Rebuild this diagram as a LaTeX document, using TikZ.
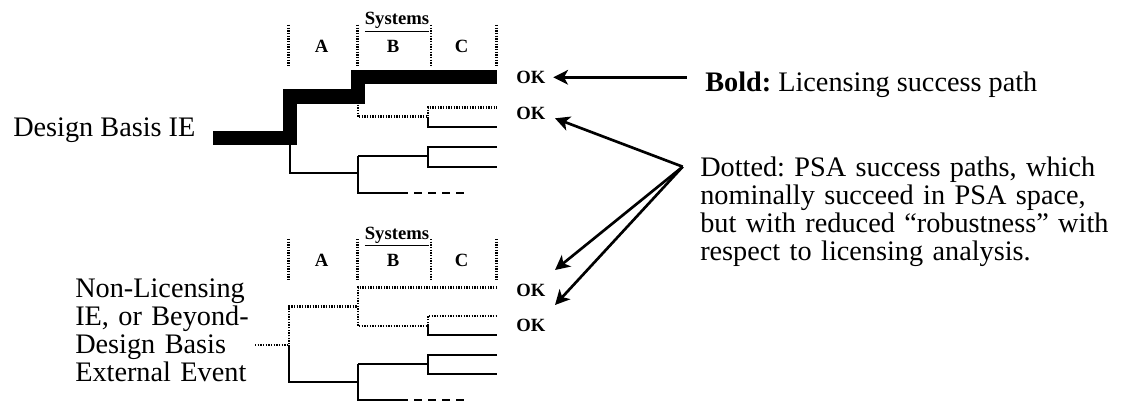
\documentclass[tikz,border=0pt]{standalone}
\usepackage{fontspec}
\setmainfont{Liberation Serif}
\usetikzlibrary{arrows.meta}
\frenchspacing
\begin{document}
\begin{tikzpicture}[x=0.75pt,y=-0.75pt,
  thin/.style={line width=1.4pt},
  dotln/.style={line width=2pt,dash pattern=on 1pt off 1pt},
  hdr/.style={line width=2pt,dash pattern=on 1pt off 1pt},
  boldpath/.style={line width=10.5pt,miter limit=10},
  dashln/.style={line width=1.6pt,dash pattern=on 6pt off 4.5pt},
  arr/.style={line width=2pt,-{Stealth[length=11pt,width=11pt,inset=3pt]}},
  big/.style={inner sep=0pt,font=\fontsize{21.2}{21.2}\selectfont},
  small/.style={inner sep=0pt,font=\fontsize{14}{16}\selectfont\bfseries},
]
\useasboundingbox (0,0) rectangle (1124,403);
% ---------- texts ----------
\node[big,anchor=base west] (dbie) at (13,137) {Design Basis IE};
\node[big,anchor=base west,text width=200pt,align=left] (nlie) at (75,297)
  {Non-Licensing\\IE, or Beyond-\\Design Basis\\External Event};
\node[big,anchor=base west] (boldtxt) at (705,92) {\textbf{Bold:} Licensing success path};
\node[big,anchor=base west,text width=330pt,align=left] (dottxt) at (700,176)
  {Dotted: PSA success paths, which\\nominally succeed in PSA space,\\but with reduced “robustness” with\\respect to licensing analysis.};
% OK labels
\node[small,anchor=base west] (ok1) at (516,84) {OK};
\node[small,anchor=base west] (ok2) at (516,119.3) {OK};
\node[small,anchor=base west] (ok3) at (516,296) {OK};
\node[small,anchor=base west] (ok4) at (516,331.7) {OK};
% headers
\node[small,anchor=base] (sys1) at (397,25) {\underline{Systems}};
\node[small] (a1) at (321.7,46.7) {A};
\node[small] (b1) at (393,46.7) {B};
\node[small] (c1) at (461.7,46.7) {C};
\node[small,anchor=base] (sys2) at (397,239) {\underline{Systems}};
\node[small] (a2) at (321.7,260) {A};
\node[small] (b2) at (393,260) {B};
\node[small] (c2) at (461.7,260) {C};
\foreach \x in {288.3,357.7,431,496.7}{
  \draw[hdr] (\x,25) -- (\x,67);
  \draw[hdr] (\x,239) -- (\x,281);
}
% ---------- upper tree ----------
\draw[boldpath] (213,137.5) -- (290,137.5) -- (290,96.5) -- (358,96.5) -- (358,76.7) -- (497,76.7);
\draw[thin] (290,137.5) -- (290,173.3) -- (358,173.3);
\draw[thin] (358,155.7) -- (358,193.3) -- (400,193.3);
\draw[dashln] (400,193.3) -- (470,193.3);
\draw[thin] (358,155.7) -- (428,155.7);
\draw[thin] (497,146.7) -- (428,146.7) -- (428,166.7) -- (497,166.7);
\draw[dotln] (358,96.5) -- (358,116.7) -- (428,116.7) -- (428,107.3) -- (497,107.3);
\draw[thin] (428,116.7) -- (428,126.7) -- (497,126.7);
% ---------- lower tree ----------
\draw[dotln] (255,345) -- (289,345) -- (289,306.7) -- (358,306.7);
\draw[dotln] (497,287.3) -- (358,287.3) -- (358,326) -- (428,326) -- (428,316) -- (497,316);
\draw[thin] (428,326) -- (428,335) -- (497,335);
\draw[thin] (289,345) -- (289,381.7) -- (358,381.7);
\draw[thin] (358,364.3) -- (358,400) -- (400,400);
\draw[dashln] (400,400) -- (470,400);
\draw[thin] (358,364.3) -- (428,364.3);
\draw[thin] (497,355) -- (428,355) -- (428,374.3) -- (497,374.3);
% ---------- arrows ----------
\coordinate (boldsrc) at (686.7,77.3);
\coordinate (hub) at (682.7,166.7);
\coordinate (t1) at (553.3,77.3);
\coordinate (t2) at (555,118.3);
\coordinate (t3) at (555,270);
\coordinate (t4) at (555,305);
\draw[arr] (boldsrc) -- (t1);
\draw[arr] (hub) -- (t2);
\draw[arr] (hub) -- (t3);
\draw[arr] (hub) -- (t4);
\end{tikzpicture}
\end{document}
